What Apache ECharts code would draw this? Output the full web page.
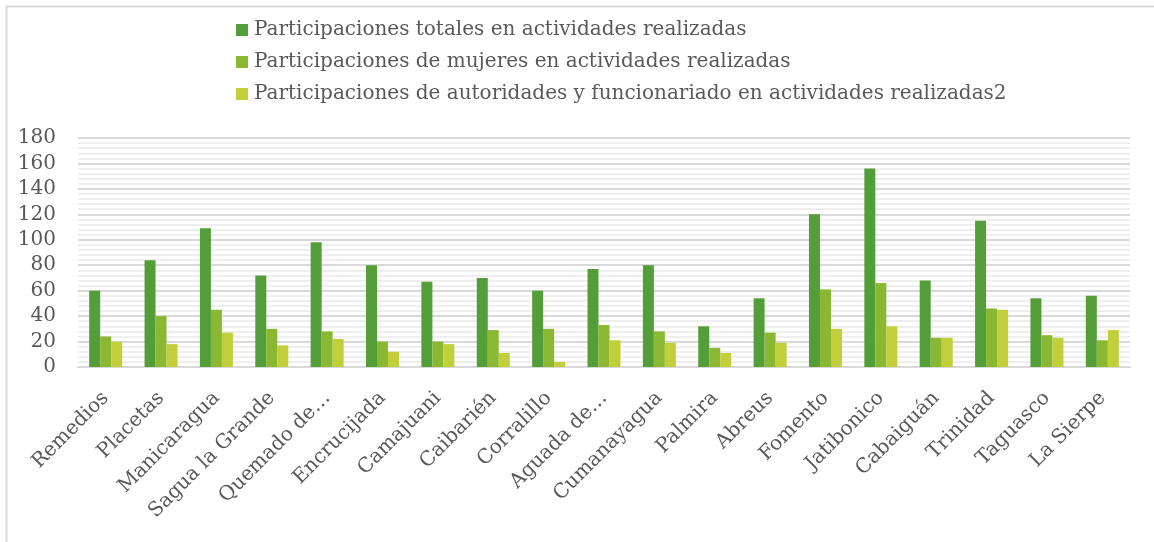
<!DOCTYPE html>
<html>
<head>
<meta charset="utf-8">
<script src="https://cdn.jsdelivr.net/npm/echarts@6/dist/echarts.min.js"></script>
<style>
  html, body { margin: 0; padding: 0; background: #fff; }
  #chart { width: 1154px; height: 542px; }
</style>
</head>
<body>
<div id="chart"></div>
<script>
var municipios = ['Remedios', 'Placetas', 'Manicaragua', 'Sagua la Grande', 'Quemado de…', 'Encrucijada',
  'Camajuani', 'Caibarién', 'Corralillo', 'Aguada de…', 'Cumanayagua', 'Palmira', 'Abreus',
  'Fomento', 'Jatibonico', 'Cabaiguán', 'Trinidad', 'Taguasco', 'La Sierpe'];

var totales = [60, 84, 109, 72, 98, 80, 67, 70, 60, 77, 80, 32, 54, 120, 156, 68, 115, 54, 56];
var mujeres = [24, 40, 45, 30, 28, 20, 20, 29, 30, 33, 28, 15, 27, 61, 66, 23, 46, 25, 21];
var autoridades = [20, 18, 27, 17, 22, 12, 18, 11, 4, 21, 19, 11, 19, 30, 32, 23, 45, 23, 29];

var nombres = ['Participaciones totales en actividades realizadas',
  'Participaciones de mujeres en actividades realizadas',
  'Participaciones de autoridades y funcionariado en actividades realizadas2'];

var ticksY = [0, 20, 40, 60, 80, 100, 120, 140, 160, 180];

var fuente = '"DejaVu Serif", serif';
var gris = '#595959';

var chart = echarts.init(document.getElementById('chart'));

chart.setOption({
  animation: false,
  color: ['#549E39', '#8AB833', '#C0CF3A'],
  textStyle: { fontFamily: fuente },
  graphic: [
    { type: 'line', shape: { x1: 6, y1: 6.5, x2: 1154, y2: 6.5 }, style: { stroke: '#d9d9d9', lineWidth: 2 } },
    { type: 'line', shape: { x1: 6.5, y1: 6, x2: 6.5, y2: 542 }, style: { stroke: '#d9d9d9', lineWidth: 2 } }
  ],
  legend: {
    orient: 'vertical',
    left: 231,
    top: 13,
    itemWidth: 12,
    itemHeight: 12,
    itemGap: 8,
    icon: 'rect',
    textStyle: { fontFamily: fuente, fontSize: 20, lineHeight: 24, color: gris, padding: [0, 0, 0, 1] },
    data: nombres
  },
  grid: { left: 78, right: 24, top: 138, bottom: 175 },
  xAxis: {
    type: 'category',
    data: municipios,
    axisLine: { lineStyle: { color: '#d9d9d9', width: 2 } },
    axisTick: { show: false },
    axisLabel: { rotate: 45, interval: 0, fontFamily: fuente, fontSize: 20, color: gris, margin: 28 }
  },
  yAxis: {
    type: 'value',
    min: 0,
    max: 180,
    interval: 20,
    axisLine: { show: false },
    axisTick: { show: false },
    axisLabel: {
      fontFamily: fuente, fontSize: 20, color: gris, margin: 22,
      formatter: function (v) { return ticksY.indexOf(v) >= 0 ? String(v) : ''; }
    },
    splitLine: { lineStyle: { color: '#d9d9d9', width: 2 } },
    minorTick: { show: false, splitNumber: 5 },
    minorSplitLine: { show: true, lineStyle: { color: '#efefef', width: 2 } }
  },
  series: [
    { name: nombres[0], type: 'bar', data: totales, barWidth: 11, barGap: '0%', barCategoryGap: '40%' },
    { name: nombres[1], type: 'bar', data: mujeres, barWidth: 11, barGap: '0%' },
    { name: nombres[2], type: 'bar', data: autoridades, barWidth: 11, barGap: '0%' }
  ]
});
</script>
</body>
</html>
